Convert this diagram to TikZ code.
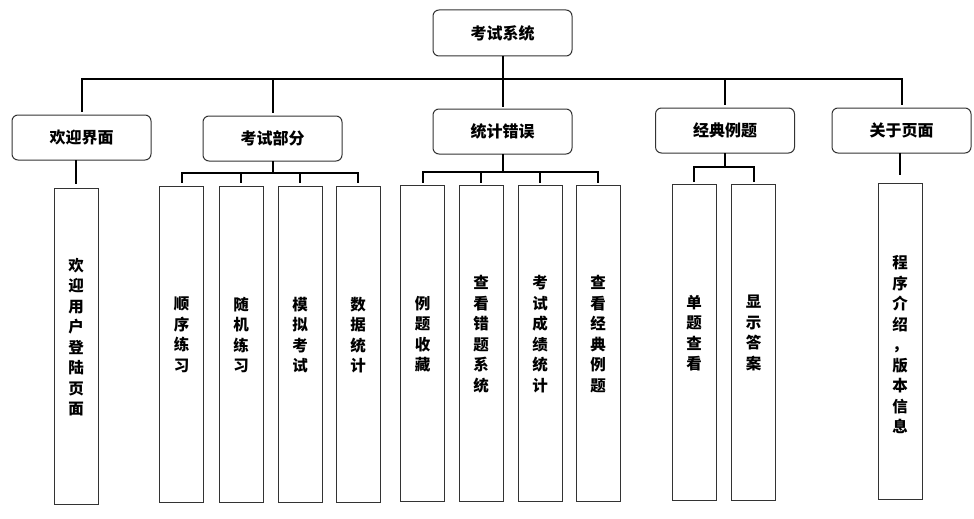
\documentclass[tikz,border=0pt]{standalone}
\usepackage{fontspec}
\setmainfont{Noto Sans CJK SC}
\usetikzlibrary{positioning}

\tikzset{
    topbox/.style={draw=black!80, line width=1pt, rounded corners=6pt,
        minimum width=139pt, minimum height=45pt, inner sep=0pt,
        font=\bfseries\fontsize{16}{16}\selectfont},
    leafbox/.style={draw=black!80, line width=1pt,
        minimum width=44pt, minimum height=316pt, inner sep=0pt},
    leaftext/.style={yshift=9pt, inner sep=0pt, align=center,
        font=\bfseries\fontsize{15.5}{20.5}\selectfont},
    link/.style={line width=2pt, line cap=rect},
}

\begin{document}
\begin{tikzpicture}[x=1pt,y=-1pt]
    % CANVAS
    \useasboundingbox (0,0) rectangle (974,519);

    % TOP LEVEL
    \node[topbox, minimum height=46pt] (sys) at (502.5,33) {考试系统};
    \node[topbox] (welcome) at (81.5,137.5) {欢迎界面};
    \node[topbox] (exam) at (272.5,138.5) {考试部分};
    \node[topbox] (stat) at (502.5,131.5) {统计错误};
    \node[topbox] (classic) at (725,130.5) {经典例题};
    \node[topbox] (about) at (901.5,130.5) {关于页面};

    % MAIN BUS
    \coordinate (bus) at (0,79);
    \draw[link] (welcome.north |- bus) -- (about.north |- bus);
    \draw[link, shorten <=1pt, shorten >=3pt] (sys.south) -- (stat.north);
    \foreach \n in {welcome,exam,classic,about}
        \draw[link, shorten >=4pt] (\n.north |- bus) -- (\n.north);

    % WELCOME PAGE
    \node[leafbox, label={[leaftext]center:欢\\迎\\用\\户\\登\\陆\\页\\面}] (wleaf) at (76,346) {};
    \draw[link, shorten >=5pt] (wleaf.north |- welcome.south) -- (wleaf.north);

    % EXAM PART
    \foreach \x/\n/\t in {181.5/seq/顺\\序\\练\\习, 241/rnd/随\\机\\练\\习,
                          300/mock/模\\拟\\考\\试, 358/data/数\\据\\统\\计}
        \node[leafbox, label={[leaftext]center:\t}] (\n) at (\x,344) {};
    \coordinate (exambus) at (0,173);
    \draw[link] (exam.south) -- (exam.south |- exambus);
    \draw[link] (seq.north |- exambus) -- (data.north |- exambus);
    \foreach \n in {seq,rnd,mock,data}
        \draw[link, shorten >=4pt] (\n.north |- exambus) -- (\n.north);

    % ERROR STATISTICS
    \foreach \x/\n/\t in {422.5/fav/例\\题\\收\\藏, 481/wrong/查\\看\\错\\题\\系\\统,
                          540/score/考\\试\\成\\绩\\统\\计, 598/view/查\\看\\经\\典\\例\\题}
        \node[leafbox, label={[leaftext]center:\t}] (\n) at (\x,343) {};
    \coordinate (statbus) at (0,172);
    \draw[link] (stat.south) -- (stat.south |- statbus);
    \draw[link] (fav.north |- statbus) -- (view.north |- statbus);
    \foreach \n in {fav,wrong,score,view}
        \draw[link, shorten >=3pt] (\n.north |- statbus) -- (\n.north);

    % CLASSIC EXAMPLES
    \foreach \x/\n/\t in {694/single/单\\题\\查\\看, 753.5/answer/显\\示\\答\\案}
        \node[leafbox, label={[leaftext]center:\t}] (\n) at (\x,342) {};
    \coordinate (classbus) at (0,167);
    \draw[link] (classic.south) -- (classic.south |- classbus);
    \draw[link] (single.north |- classbus) -- (answer.north |- classbus);
    \foreach \n in {single,answer}
        \draw[link, shorten >=3pt] (\n.north |- classbus) -- (\n.north);

    % ABOUT PAGE
    \node[leafbox, label={[leaftext, yshift=-13pt]center:程\\序\\介\\绍\\，\\版\\本\\信\\息}] (info) at (900,341) {};
    \draw[link, shorten >=9pt] (info.north |- about.south) -- (info.north);

\end{tikzpicture}
\end{document}
